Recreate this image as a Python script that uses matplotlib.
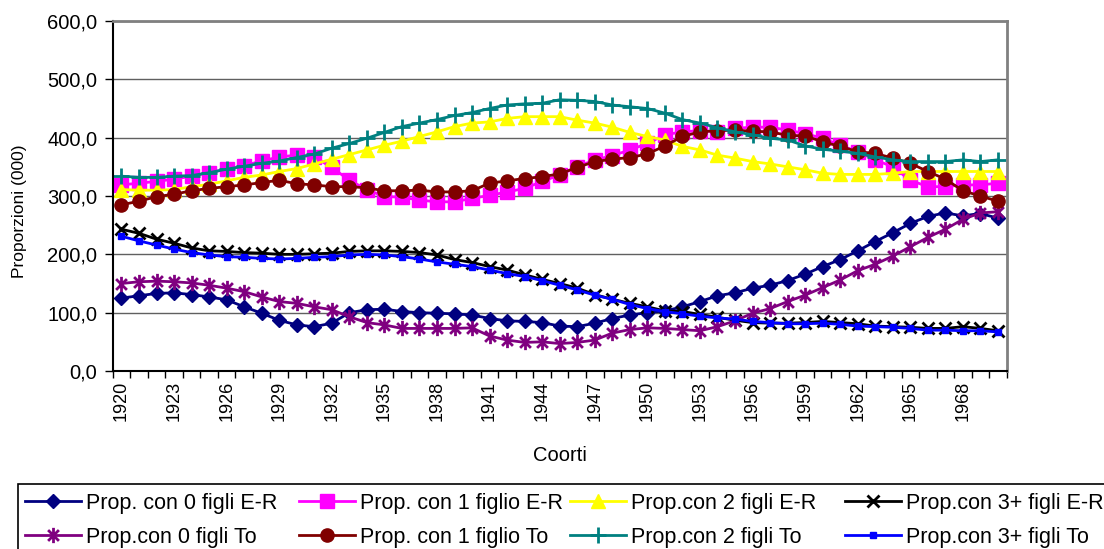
import matplotlib
matplotlib.use("Agg")
import matplotlib.pyplot as plt
from matplotlib.path import Path
from matplotlib.patches import Rectangle
from matplotlib.ticker import FuncFormatter, FixedLocator
import numpy as np

plt.rcParams['font.family'] = ['Liberation Sans', 'DejaVu Sans']

years = list(range(1920, 1971))
tick_years = list(range(1920, 1969, 3))

er0 = [125, 129, 133, 134, 131, 127, 122, 110, 99, 87, 79, 76, 82, 100, 105, 106, 102, 100, 99, 98,
       96, 90, 86, 85, 83, 77, 76, 82, 90, 96, 100, 103, 110, 119, 129, 134, 142, 147, 155, 166,
       179, 191, 206, 222, 237, 253, 265, 271, 266, 270, 262]
er1 = [319, 322, 325, 329, 334, 340, 346, 352, 360, 367, 370, 367, 349, 327, 311, 299, 298, 293, 290, 290,
       296, 301, 307, 313, 325, 336, 350, 362, 369, 379, 390, 405, 410, 412, 410, 416, 418, 418, 413, 407,
       399, 387, 376, 362, 350, 327, 316, 316, 319, 319, 322]
er2 = [311, 310, 310, 311, 316, 320, 326, 332, 336, 342, 347, 355, 363, 371, 379, 387, 394, 402, 410, 419,
       425, 427, 433, 436, 436, 436, 430, 425, 418, 409, 402, 396, 385, 379, 370, 365, 359, 355, 350, 345,
       339, 337, 337, 337, 339, 342, 342, 342, 342, 342, 342]
er3 = [243, 236, 226, 219, 211, 206, 205, 203, 202, 200, 200, 201, 202, 205, 206, 206, 205, 203, 199, 191,
       186, 179, 173, 165, 157, 150, 142, 131, 123, 116, 110, 103, 102, 97, 92, 87, 83, 82, 82, 83,
       85, 83, 81, 77, 76, 75, 73, 73, 76, 73, 69]
to0 = [150, 153, 154, 153, 151, 147, 142, 136, 127, 119, 116, 110, 105, 93, 83, 79, 73, 73, 73, 73,
       74, 60, 53, 49, 50, 47, 49, 53, 65, 71, 74, 73, 71, 69, 76, 86, 99, 107, 119, 130,
       143, 156, 172, 183, 197, 213, 229, 243, 260, 271, 273]
to1 = [285, 291, 299, 303, 309, 313, 316, 319, 323, 327, 321, 319, 316, 316, 314, 309, 309, 310, 307, 307,
       309, 322, 326, 330, 333, 338, 349, 359, 363, 366, 372, 386, 402, 410, 412, 413, 411, 410, 404, 403,
       393, 385, 376, 373, 365, 356, 342, 329, 309, 300, 291]
to2 = [334, 332, 332, 334, 335, 340, 346, 351, 356, 360, 366, 372, 382, 390, 399, 409, 419, 425, 431, 438,
       443, 450, 456, 458, 459, 465, 464, 462, 456, 453, 450, 442, 431, 425, 417, 410, 405, 399, 396, 386,
       380, 377, 373, 367, 362, 359, 359, 359, 362, 359, 362]
to3 = [231, 223, 216, 209, 203, 199, 196, 195, 193, 192, 193, 195, 196, 199, 200, 199, 196, 192, 187, 183,
       179, 173, 167, 162, 155, 147, 139, 130, 123, 114, 107, 102, 98, 94, 91, 89, 85, 83, 81, 81,
       82, 80, 77, 76, 75, 73, 70, 70, 69, 69, 67]

labels = ["Prop. con 0 figli E-R", "Prop. con 1 figlio E-R", "Prop.con 2 figli E-R", "Prop.con 3+ figli E-R",
          "Prop.con 0 figli To", "Prop. con 1 figlio To", "Prop.con 2 figli To", "Prop.con 3+ figli To"]

s = 0.7071
asterisk = Path([(0, -1), (0, 1), (-s, -s), (s, s), (-s, s), (s, -s)],
                [Path.MOVETO, Path.LINETO, Path.MOVETO, Path.LINETO, Path.MOVETO, Path.LINETO])

styles = [
    dict(color='#000080', marker='D', ms=7.5, mec='#000080', mfc='#000080'),
    dict(color='#FF00FF', marker='s', ms=10, mec='#FF00FF', mfc='#FF00FF'),
    dict(color='#FFFF00', marker='^', ms=10, mec='#FFFF00', mfc='#FFFF00'),
    dict(color='#000000', marker='x', ms=9, mew=2.0),
    dict(color='#800080', marker=asterisk, ms=11, mew=2.0),
    dict(color='#800000', marker='o', ms=9.5, mec='#800000', mfc='#800000'),
    dict(color='#008080', marker='+', ms=11, mew=2.0),
    dict(color='#0000FF', marker='s', ms=4, mec='#0000FF', mfc='#0000FF'),
]
series = [er0, er1, er2, er3, to0, to1, to2, to3]

W, H = 1104, 549
fig = plt.figure(figsize=(W / 100, H / 100), dpi=100)
ax = fig.add_axes([112.7 / W, 1 - 371 / H, (1006.7 - 112.7) / W, 350 / H])

x = np.arange(len(years))
handles = []
for data, st, lab in zip(series, styles, labels):
    h, = ax.plot(x, data, lw=2.0, label=lab, **st)
    handles.append(h)

ax.set_xlim(-0.5, len(years) - 0.5)
ax.set_ylim(0, 600)
ax.set_yticks(np.arange(0, 601, 100))
ax.yaxis.set_major_formatter(FuncFormatter(lambda v, p: f"{v:.1f}".replace('.', ',')))
ax.grid(axis='y', color='#606060', lw=1.0)
ax.set_axisbelow(True)

tick_idx = [years.index(t) for t in tick_years]
ax.xaxis.set_major_locator(FixedLocator(tick_idx))
ax.set_xticklabels([str(t) for t in tick_years], rotation=90, fontsize=13)
ax.xaxis.set_minor_locator(FixedLocator(np.arange(-0.5, len(years), 1.0)))
ax.tick_params(axis='x', which='major', length=0, pad=7)
ax.tick_params(axis='x', which='minor', length=5, width=1, color='black')
ax.tick_params(axis='y', length=6, width=1, labelsize=14.5, pad=5)

for side in ['top', 'right']:
    ax.spines[side].set_color('#808080')
    ax.spines[side].set_linewidth(2)
for side in ['left', 'bottom']:
    ax.spines[side].set_color('black')
    ax.spines[side].set_linewidth(1.5)

ax.set_ylabel("Proporzioni (000)", fontsize=12.5)
ax.yaxis.set_label_coords((27 - 112.7) / 894, (371 - 211) / 350)
ax.set_xlabel("Coorti", fontsize=14.5)
ax.xaxis.set_label_coords(0.5, -(446 - 371) / 350)

# legend frame
fig.patches.append(Rectangle((18 / W, -0.05), (1120 - 18) / W, 0.05 + (H - 484) / H,
                             transform=fig.transFigure, fill=False, edgecolor='black',
                             lw=1.2, clip_on=False))
col_x = [25, 299, 570, 845]
for c in range(4):
    hs = [handles[c], handles[c + 4]]
    ls = [labels[c], labels[c + 4]]
    fig.legend(hs, ls, loc='upper left', bbox_to_anchor=(col_x[c] / W, 1 - 493 / H),
               fontsize=15.5, frameon=False, handlelength=2.6, handletextpad=0.25,
               labelspacing=0.6, borderpad=0, borderaxespad=0)

fig.savefig("out.png", dpi=100, facecolor='white')
